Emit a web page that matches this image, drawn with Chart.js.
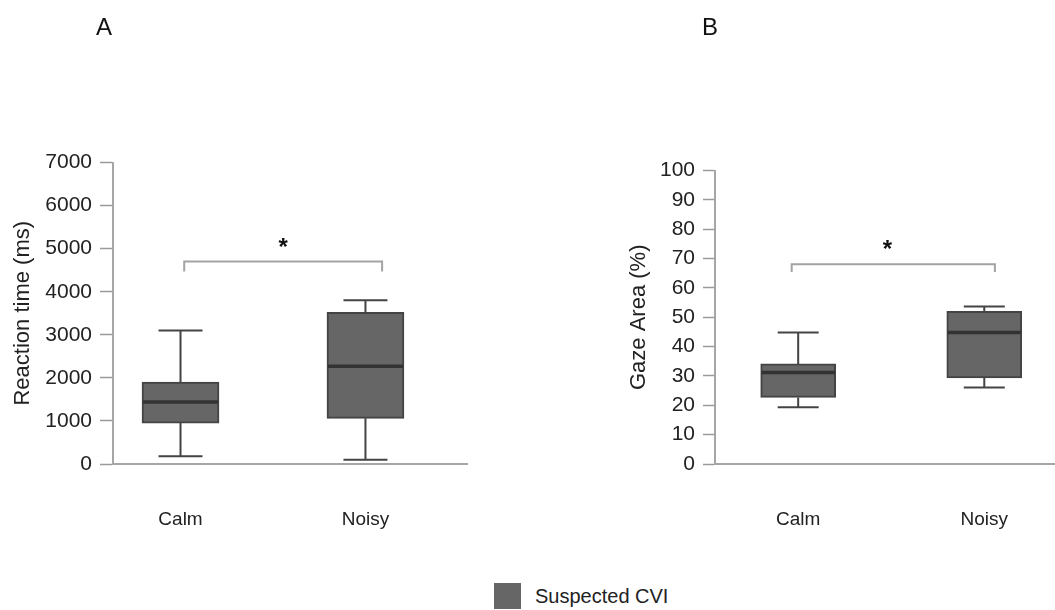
<!DOCTYPE html>
<html>
<head>
<meta charset="utf-8">
<script src="https://cdn.jsdelivr.net/npm/chart.js@4.4.1/dist/chart.umd.min.js"></script>
<style>
  html, body { margin: 0; padding: 0; background: #fff; }
  #page { position: relative; width: 1055px; height: 610px; overflow: hidden; font-family: 'Liberation Sans', Arial, sans-serif; color: #222; }
  canvas { position: absolute; top: 0; }
  #chartA { left: 0; }
  #chartB { left: 620px; }
  .panel-tag { position: absolute; font-size: 24px; line-height: 24px; color: #111; }
  #legend { position: absolute; left: 494px; top: 583px; height: 26px; display: flex; align-items: center; }
  #legend .swatch { width: 27px; height: 26px; background: #666; margin-right: 14px; }
  #legend span { font-size: 20px; }
</style>
</head>
<body>
<div id="page">
  <canvas id="chartA" width="480" height="560"></canvas>
  <canvas id="chartB" width="435" height="560"></canvas>
  <div class="panel-tag" style="left:96px; top:15px;">A</div>
  <div class="panel-tag" style="left:702px; top:15px;">B</div>
  <div id="legend"><div class="swatch"></div><span>Suspected CVI</span></div>
</div>
<script>
// ── Data ────────────────────────────────────────────────────
const groups = ['Calm', 'Noisy'];

// A: reaction time (ms)
const rtMin    = [180, 100];
const rtQ1     = [950, 1060];
const rtMedian = [1440, 2270];
const rtQ3     = [1900, 3520];
const rtMax    = [3100, 3800];
const rtTicks  = [0, 7000, 1000];          // min, max, step
const rtBracket = [1.02, 2.09, 4700, 4470]; // x from, x to, top, foot
const rtStar   = [1.555, 5160];

// B: gaze area (%)
const gazeMin    = [19.3, 26.1];
const gazeQ1     = [22.7, 29.3];
const gazeMedian = [31.2, 44.8];
const gazeQ3     = [34.1, 52.0];
const gazeMax    = [44.8, 53.7];
const gazeTicks  = [0, 100, 10];
const gazeBracket = [0.965, 2.057, 68.1, 65.4];
const gazeStar   = [1.48, 75.3];

const FONT = "'Liberation Sans', Arial, sans-serif";
const BOX_FILL = '#666666';
const BOX_EDGE = '#444444';
const AXIS_GRAY = '#a6a6a6';
const TEXT = '#222222';

// whiskers, median, significance bracket
function boxPlugin(s) {
  return {
    id: 'boxExtras',
    afterDatasetsDraw(chart) {
      const { ctx, scales: { x, y } } = chart;
      const meta = chart.getDatasetMeta(0);
      ctx.save();
      meta.data.forEach((bar, i) => {
        const cx = bar.x;
        const half = bar.width / 2;
        const yMin = y.getPixelForValue(s.min[i]);
        const yQ1 = y.getPixelForValue(s.q1[i]);
        const yQ3 = y.getPixelForValue(s.q3[i]);
        const yMax = y.getPixelForValue(s.max[i]);
        const yMed = y.getPixelForValue(s.median[i]);
        const cap = s.cap / 2;

        ctx.strokeStyle = BOX_EDGE;
        ctx.lineWidth = 2;
        ctx.beginPath();
        ctx.moveTo(cx, yQ1); ctx.lineTo(cx, yMin);
        ctx.moveTo(cx, yQ3); ctx.lineTo(cx, yMax);
        ctx.moveTo(cx - cap, yMin); ctx.lineTo(cx + cap, yMin);
        ctx.moveTo(cx - cap, yMax); ctx.lineTo(cx + cap, yMax);
        ctx.stroke();

        ctx.strokeStyle = '#333333';
        ctx.lineWidth = 3.5;
        ctx.beginPath();
        ctx.moveTo(cx - half + 1, yMed); ctx.lineTo(cx + half - 1, yMed);
        ctx.stroke();
      });

      // bracket
      const [b1, b2, bTop, bFoot] = s.bracket;
      const x1 = x.getPixelForValue(b1), x2 = x.getPixelForValue(b2);
      const yt = y.getPixelForValue(bTop), yf = y.getPixelForValue(bFoot);
      ctx.strokeStyle = '#a3a3a3';
      ctx.lineWidth = 2;
      ctx.beginPath();
      ctx.moveTo(x1, yf); ctx.lineTo(x1, yt); ctx.lineTo(x2, yt); ctx.lineTo(x2, yf);
      ctx.stroke();

      // star
      const fs = 24;
      ctx.fillStyle = '#111';
      ctx.font = `bold ${fs}px ${FONT}`;
      ctx.textAlign = 'center';
      ctx.textBaseline = 'alphabetic';
      ctx.fillText('*', x.getPixelForValue(s.star[0]), y.getPixelForValue(s.star[1]) + fs * 0.57);
      ctx.restore();
    },
  };
}

function makePanel(id, cfg) {
  const q1 = cfg.q1, q3 = cfg.q3;
  new Chart(document.getElementById(id), {
    type: 'bar',
    data: {
      datasets: [{
        data: groups.map((g, i) => ({ x: i + 1, y: [q1[i], q3[i]] })),
        backgroundColor: BOX_FILL,
        borderColor: BOX_EDGE,
        borderWidth: 2,
        borderSkipped: false,
        barThickness: cfg.barWidth,
      }],
    },
    options: {
      responsive: false,
      animation: false,
      layout: { padding: { top: cfg.padTop, right: cfg.padRight, left: 0, bottom: 0 } },
      plugins: { legend: { display: false }, tooltip: { enabled: false } },
      scales: {
        x: {
          type: 'linear',
          offset: false,
          min: cfg.xRange[0],
          max: cfg.xRange[1],
          afterBuildTicks: (sc) => { sc.ticks = groups.map((g, i) => ({ value: i + 1 })); },
          afterFit: (sc) => { sc.height = 96; },
          ticks: {
            callback: (v) => groups[v - 1],
            color: TEXT,
            font: { family: FONT, size: 19 },
            padding: 36,
            autoSkip: false,
            maxRotation: 0,
          },
          grid: { display: false, offset: false },
          border: { color: AXIS_GRAY, width: 2 },
        },
        y: {
          min: cfg.ticks[0],
          max: cfg.ticks[1],
          afterFit: (sc) => { sc.width = cfg.axisLeft; },
          ticks: {
            stepSize: cfg.ticks[2],
            callback: (v) => String(v),
            color: TEXT,
            font: { family: FONT, size: 21 },
            padding: 8,
          },
          grid: {
            drawOnChartArea: false,
            tickLength: cfg.tickLen,
            tickColor: '#9a9a9a',
            tickWidth: 1.5,
          },
          border: { color: AXIS_GRAY, width: 2 },
          title: {
            display: true,
            text: cfg.title,
            color: TEXT,
            font: { family: FONT, size: 22 },
            padding: { top: cfg.titlePad, bottom: 0 },
          },
        },
      },
    },
    plugins: [boxPlugin({
      min: cfg.min, q1: cfg.q1, median: cfg.median, q3: cfg.q3, max: cfg.max,
      bracket: cfg.bracket, star: cfg.star, cap: cfg.cap,
    })],
  });
}

makePanel('chartA', {
  title: 'Reaction time (ms)',
  min: rtMin, q1: rtQ1, median: rtMedian, q3: rtQ3, max: rtMax,
  ticks: rtTicks, bracket: rtBracket, star: rtStar,
  xRange: [0.635, 2.549],
  axisLeft: 113, padTop: 162.5, padRight: 13,
  tickLen: 13, titlePad: 10, barWidth: 77, cap: 44,
});

makePanel('chartB', {
  title: 'Gaze Area (%)',
  min: gazeMin, q1: gazeQ1, median: gazeMedian, q3: gazeQ3, max: gazeMax,
  ticks: gazeTicks, bracket: gazeBracket, star: gazeStar,
  xRange: [0.553, 2.38],
  axisLeft: 95, padTop: 170.5, padRight: 0,
  tickLen: 12, titlePad: 6, barWidth: 75, cap: 41,
});
</script>
</body>
</html>
